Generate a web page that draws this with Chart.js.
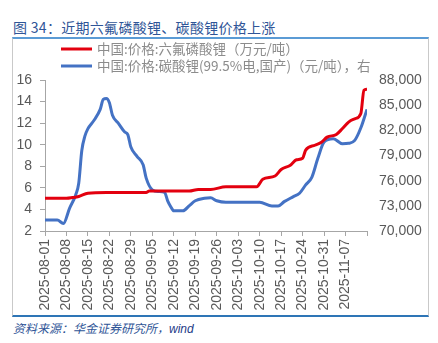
<!DOCTYPE html>
<html>
<head>
<meta charset="utf-8">
<script src="https://cdn.jsdelivr.net/npm/chart.js@4"></script>
<style>
  html, body { margin: 0; padding: 0; background: #fff; }
  body { width: 438px; height: 343px; position: relative; overflow: hidden; font-family: "Noto Sans CJK SC", "Liberation Sans", sans-serif; }
  #title { position: absolute; left: 13px; top: 17px; font-size: 14px; letter-spacing: 0.3px; color: #2F5597; white-space: nowrap; }
  #frame { position: absolute; left: 12px; top: 37px; width: 415px; height: 276px; border: 1px solid #C9C9C9; border-top: 2px solid #5B9BD5; border-bottom: 2px solid #2E75B6; }
  #box { position: absolute; left: 13px; top: 39px; width: 414px; height: 275px; }
  #source { position: absolute; left: 13px; top: 319px; font-size: 12px; font-style: italic; color: #2F5597; white-space: nowrap; }
  #source b { font-weight: normal; color: #1F3C88; font-family: "Liberation Sans", sans-serif; }
</style>
</head>
<body>
<div id="title">图 34：近期六氟磷酸锂、碳酸锂价格上涨</div>
<div id="frame"></div>
<div id="box"><canvas id="chart" width="414" height="275"></canvas></div>
<div id="source">资料来源：华金证券研究所，<b>wind</b></div>
<script>
const START = Date.UTC(2025, 7, 1);

const xTickLabels = ['2025-08-01', '2025-08-08', '2025-08-15', '2025-08-22', '2025-08-29', '2025-09-05', '2025-09-12',
  '2025-09-19', '2025-09-26', '2025-10-03', '2025-10-10', '2025-10-17', '2025-10-24', '2025-10-31', '2025-11-07'];

// 六氟磷酸锂 (万元/吨), left axis
const lipf6Dates = ['2025-08-01', '2025-08-08', '2025-08-10', '2025-08-12', '2025-08-15', '2025-08-21', '2025-09-03',
  '2025-09-04', '2025-09-17', '2025-09-20', '2025-09-24', '2025-09-29', '2025-10-09', '2025-10-11', '2025-10-15',
  '2025-10-17', '2025-10-20', '2025-10-22', '2025-10-24', '2025-10-25', '2025-10-28', '2025-10-30', '2025-11-01',
  '2025-11-04', '2025-11-06', '2025-11-08', '2025-11-10', '2025-11-12', '2025-11-13', '2025-11-14'];
const lipf6Prices = [5.03, 5.03, 5.1, 5.2, 5.5, 5.58, 5.58, 5.7, 5.7, 5.85, 5.85, 6.1, 6.1, 6.8, 7.1,
  7.7, 8.1, 8.6, 8.75, 9.5, 9.95, 10.2, 10.7, 10.95, 11.5, 12.1, 12.4, 12.9, 15.05, 15.15];

// 碳酸锂 99.5%电,国产 (元/吨), right axis
const li2co3Dates = ['2025-08-01', '2025-08-05', '2025-08-07', '2025-08-09', '2025-08-11', '2025-08-12', '2025-08-13',
  '2025-08-14', '2025-08-15', '2025-08-17', '2025-08-19', '2025-08-20', '2025-08-21', '2025-08-22', '2025-08-23',
  '2025-08-25', '2025-08-27', '2025-08-28', '2025-08-29', '2025-08-31', '2025-09-02', '2025-09-03', '2025-09-05',
  '2025-09-07', '2025-09-09', '2025-09-10', '2025-09-11', '2025-09-12', '2025-09-15', '2025-09-17', '2025-09-19',
  '2025-09-22', '2025-09-24', '2025-09-26', '2025-09-29', '2025-10-10', '2025-10-14', '2025-10-16', '2025-10-18',
  '2025-10-21', '2025-10-23', '2025-10-25', '2025-10-27', '2025-10-29', '2025-10-31', '2025-11-03', '2025-11-06',
  '2025-11-08', '2025-11-10', '2025-11-12', '2025-11-14'];
const li2co3Prices = [71300, 71300, 70900, 72700, 74300, 75700, 79600, 81300, 82200, 83200, 84500, 85700, 85800,
  85300, 83800, 82800, 81800, 81500, 80000, 78900, 77900, 76300, 74900, 74700, 74600, 73600, 72900, 72400, 72400,
  73000, 73600, 73900, 73950, 73600, 73420, 73420, 72980, 72980, 73500, 74100, 74500, 75500, 76400, 78700, 80600,
  81000, 80400, 80450, 80800, 82300, 84500];

const seriesNames = ['中国:价格:六氟磷酸锂（万元/吨）', '中国:价格:碳酸锂(99.5%电,国产)（元/吨），右'];

function day(s) { return Math.round((Date.parse(s) - START) / 864e5); }
function points(dates, vals) { return dates.map((d, i) => ({ x: day(d), y: vals[i] })); }

const axisGray = '#A6A6A6';
const tickFont = { family: 'Liberation Sans, Arial, sans-serif', size: 14 };

const legendPlugin = {
    id: 'sideLegend',
    afterDraw(chart) {
        const ctx = chart.ctx;
        ctx.save();
        chart.data.datasets.forEach((ds, i) => {
            const y = 10 + i * 17;
            ctx.strokeStyle = ds.borderColor;
            ctx.lineWidth = 3;
            ctx.beginPath(); ctx.moveTo(48, y); ctx.lineTo(79, y); ctx.stroke();
            ctx.fillStyle = '#8C8C8C';
            ctx.font = '13.5px "Noto Sans CJK SC", sans-serif';
            ctx.textBaseline = 'middle';
            ctx.fillText(ds.label, 84, y);
        });
        ctx.restore();
    }
};

new Chart(document.getElementById('chart').getContext('2d'), {
    type: 'line',
    data: {
        datasets: [
            { label: seriesNames[0], data: points(lipf6Dates, lipf6Prices), yAxisID: 'y', borderColor: '#E3000F', borderWidth: 3, pointRadius: 0, cubicInterpolationMode: 'monotone' },
            { label: seriesNames[1], data: points(li2co3Dates, li2co3Prices), yAxisID: 'y1', borderColor: '#4472C4', borderWidth: 3, pointRadius: 0, cubicInterpolationMode: 'monotone' }
        ]
    },
    options: {
        responsive: false,
        animation: false,
        layout: { padding: { top: 41, left: 0, right: 0, bottom: 0 } },
        plugins: { legend: { display: false }, tooltip: { enabled: false } },
        scales: {
            x: {
                type: 'linear', min: 0, max: 105,
                afterFit: s => { s.height = 83; },
                afterBuildTicks: s => { s.ticks = Array.from({ length: 16 }, (_, i) => ({ value: i * 7 })); },
                ticks: { autoSkip: false, minRotation: 90, maxRotation: 90, padding: 3, color: '#595959', font: tickFont,
                    callback: (v, i) => xTickLabels[i] || '' },
                grid: { drawOnChartArea: false, drawTicks: true, tickLength: 5, color: axisGray },
                border: { color: axisGray }
            },
            y: {
                position: 'left', min: 2, max: 16,
                afterFit: s => { s.width = 32; },
                ticks: { stepSize: 2, padding: 8, color: '#595959', font: tickFont },
                grid: { drawOnChartArea: false, drawTicks: true, tickLength: 5, color: axisGray },
                border: { color: axisGray }
            },
            y1: {
                position: 'right', min: 70000, max: 88000,
                afterFit: s => { s.width = 60; },
                ticks: { stepSize: 3000, padding: 4, color: '#595959', font: tickFont,
                    callback: v => v.toLocaleString('en-US') },
                grid: { display: false },
                border: { display: false }
            }
        }
    },
    plugins: [legendPlugin]
});
</script>
</body>
</html>
